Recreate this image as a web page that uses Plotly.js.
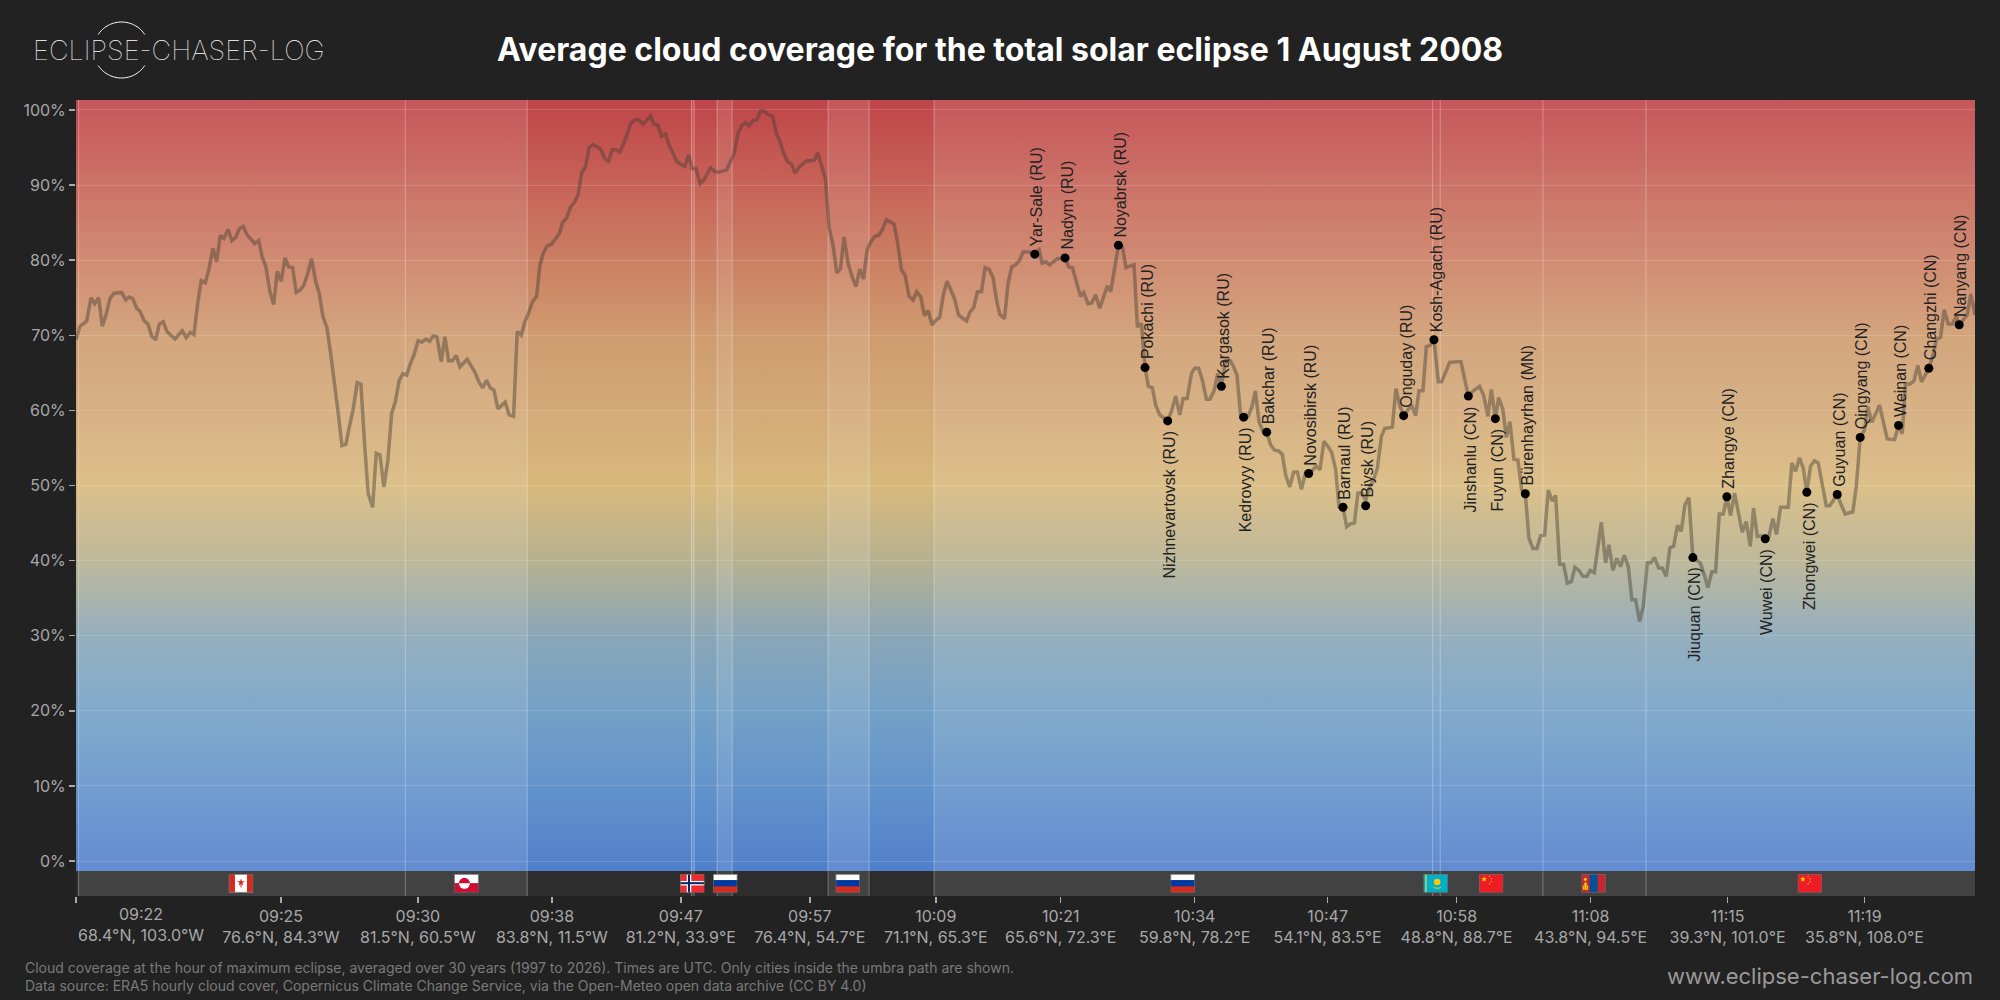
<!DOCTYPE html>
<html><head><meta charset="utf-8">
<script src="https://cdn.plot.ly/plotly-3.0.1.min.js"></script>
<style>html,body{margin:0;padding:0;background:#222}#c{width:2000px;height:1000px}</style></head>
<body><div id="c"></div>
<script>
// --- cloud series (position along the path, percent cover)
const posWest=[0,4,10.7,15,18.7,22.7,26.3,30,34,38,45.7,49.7,53,56.7,60.7,64,68.3,72,75.7,79.7,83.3,87.3,91,99,106.3,110.3,114.3,118,121.7,125.3,129.3,133,137,140.7,144.3,148,152,156,159.7,163.3,167.3,171,178.7,182.7,186.3,190,194,197.7,201.3,205.3,209,212.7,216.7,220.3,224,228,231.7,235.7,239.7,243.3,247,251,254.7,258.7,262.3,266,270,273.7,277.3,281.3,285,288.7,292.3,296.7,300.3,304,308,312,315.7,319.3,323.3,327,330.7,334.7,338.3,342.3,346,350,353.7,357.3,361,365.3,369,372.7,376.3,380.3,384,391.3,395.3,399,403,406.7,410.7,414.3,418,422,429.3,433.3,437.7,441.3,445.3,449,453,456.7,460.7,464,467.3,471.3,475.3];
const cloudWest=[69.4,71.2,71.9,75.0,74.2,75.0,71.2,72.7,74.9,75.6,75.7,74.7,75.1,74.9,73.6,73.2,71.9,71.5,69.9,69.4,71.5,71.8,70.5,69.5,70.6,69.7,70.4,70.1,74.2,77.3,77.0,78.8,81.6,79.8,83.3,82.9,84.1,82.6,83.0,84.2,84.5,83.4,82.2,82.6,80.4,79.1,75.8,74.1,78.5,77.2,80.3,79.1,79.0,75.7,76.0,76.7,78.2,80.2,77.2,75.6,72.5,71.0,67.6,63.6,59.6,55.3,55.5,58.0,60.2,63.7,63.5,55.4,48.9,47.1,54.3,54.1,49.8,53.4,59.6,61.1,64.0,64.9,64.7,66.3,67.5,69.3,69.1,69.5,69.2,69.9,69.8,66.5,69.8,66.6,66.6,67.3,65.8,66.8,65.9,65.1,63.8,63.0,64.0,63.0,62.7,60.2,61.1,59.4,59.2,70.5,70.0,71.8,73.1,74.5,75.2,79.3,80.9,81.9,82.1];
const posArctic=[483.3,486.7,490.7,494.7,498.7,502.3,505.7,509.7,513.3,517.3,524.7,528.7,532.7,536.3,540,544,548.7,555,559,563,567.3,574.7,578,582,585.7,589.7,593.3,597.3,601,609,612.7,616.3,620,624.3,628,634.7,639,642.3,646.7,650.7,658.3,662.3,665.7,669.7,673.3,677.3,681,685,689,693,696.7,700.3,704,708,711.7,715.7,719.3,723.3,730.7,734.7,738.3,742,746,749.7,753.3,757,761,764.7,768.3,772.3,776.3,780.3,784,787.7,791.3,795.3,799.3,803,807,810.7,818.3,822,825.7,829.3,833.3,837.3,841,845,848.7,852.3,856.3,860,864,867.7,871.3,875.3,879,882.7,890.7,894.3,898,901.7,905.7,909.3,913.3,917.3,921,924];
const cloudArctic=[83.5,85.0,85.6,87.1,87.7,88.8,91.6,92.5,95.0,95.4,94.8,93.6,93.2,94.7,94.7,94.4,95.8,98.2,98.7,98.7,98.1,99.2,98.1,98.0,96.5,96.8,95.3,94.2,93.1,92.5,94.0,92.2,92.2,90.2,90.7,92.3,91.8,91.7,91.9,92.0,94.2,96.9,97.9,98.3,97.9,98.6,98.7,99.9,99.8,99.3,99.2,97.0,95.9,94.2,93.1,92.8,91.6,92.4,93.2,93.2,93.3,94.3,92.4,90.8,84.3,82.2,78.3,78.9,83.1,79.6,77.8,76.5,78.8,77.5,81.4,82.5,83.2,83.3,84.2,85.4,84.8,82.2,78.7,78.0,75.2,74.7,75.8,75.1,72.6,73.3,71.4,72.0,72.4,75.5,77.2,76.0,74.8,72.7,71.9,73.1,73.7,75.8,75.8,79.0,78.8,77.7,74.5,72.8];
const posSiberia=[928.7,932.3,936,940,944,947.3,954,959,963.3,966.3,970,974,981.7,989.3,993,996.7,1000.7,1004.7,1008,1012.3,1016,1020,1024,1031.7,1035,1039,1042.7,1046.7,1050.3,1058.3,1061.7,1065.7,1069.3,1072.7,1076.7,1080,1084,1092,1096,1100,1104,1107.5,1111.5,1115.7,1119,1123,1126.7,1130.7,1134.3,1138.3,1142,1145.7,1149.7,1154,1157.3,1161.3,1165,1168.3,1172.3,1176.3,1179.7,1183.3,1187.3,1191,1195,1199,1203,1206.7,1210,1214,1218,1221.7,1225.7,1229.7,1233,1237.3,1240.7,1244.3,1248.3,1252.3,1256,1260,1263.3,1267.3,1271,1274.7,1278.7,1282.3,1286,1290,1294,1297.7,1301.7,1305.7,1309,1316.7,1320.3,1324,1328,1336,1340,1343.3,1347.3,1350.7,1354,1358.3,1362.7,1366,1374,1385.3,1389,1392.7,1396.7,1404,1408,1412.3,1415.7,1419.7,1423,1427.3,1430.7,1434.3,1438.3,1442.3,1446,1449.7];
const cloudSiberia=[72.2,76.9,79.1,79.4,80.0,81.1,81.1,80.9,81.4,79.6,79.8,79.4,80.2,80.3,79.1,79.0,77.2,75.2,75.7,74.2,74.3,75.4,73.6,76.6,75.8,78.9,82.0,81.8,79.0,79.4,71.1,71.6,65.7,63.2,63.0,60.7,59.4,58.6,60.0,61.9,59.4,61.6,61.6,64.9,65.6,65.6,64.0,61.5,61.5,62.6,64.9,63.2,66.6,66.7,66.0,64.7,59.2,59.2,59.2,60.5,62.6,58.5,57.2,57.1,55.4,54.7,54.6,54.1,51.4,49.8,51.8,51.8,49.5,51.6,51.6,52.1,52.6,52.1,55.9,55.2,54.4,52.1,47.2,47.1,44.5,44.9,45.0,49.0,49.0,48.0,49.8,50.7,52.3,56.5,57.6,57.8,62.9,60.7,59.3,60.7,59.3,62.6,62.6,68.5,68.6,69.4,63.8,63.8,66.4,66.5,64.3,61.9,62.5,63.2,62.0,59.2,62.8,58.9,61.7,60.1,56.4,58.5,53.5,53.4,49.4,48.9];
const posChina=[1453.3,1457.3,1461.3,1465,1469,1472.7,1476.7,1480,1484,1488,1491.7,1495.7,1499.3,1503.3,1507.3,1511.3,1514.7,1518.7,1525.7,1530,1533.3,1537.3,1541.3,1545,1548.7,1552.7,1556.3,1560,1564,1567.7,1571.7,1575.3,1579,1583,1586.7,1590.7,1594.3,1598,1602,1605.7,1609.3,1613.3,1617.3,1624.7,1628.7,1632.3,1636.3,1640,1643.7,1647.7,1651.3,1655,1659,1662.7,1666.7,1670.7,1674.7,1678,1681.7,1685.7,1689.7,1693.3,1697.3,1701,1705,1712.7,1716.3,1720,1724,1727.7,1731.3,1735,1739,1742.7,1746.7,1750.7,1754.3,1761.7,1765.7,1769.7,1777.3,1780.7,1784.7,1789,1792.3,1796.3,1804,1807.7,1811.7,1819,1823,1826.7,1830,1834.3,1838.3,1842.3,1846,1853.3,1857.3,1861,1865,1868.7,1872.7,1876.7,1880.7,1883.7,1891.7,1895.3,1899.5];
const cloudChina=[43.0,41.6,41.6,43.3,43.4,49.4,47.9,48.7,39.5,39.5,37.0,37.2,39.1,38.7,37.9,37.9,38.7,38.4,45.1,39.7,42.1,38.7,40.3,39.2,40.7,39.2,34.8,34.8,31.9,33.9,39.7,39.7,40.4,39.0,39.0,37.9,41.7,41.9,44.7,43.9,47.4,48.4,40.4,39.7,38.1,36.4,38.5,38.5,46.2,46.2,48.5,46.0,49.0,46.7,43.8,45.2,41.9,47.0,43.2,43.3,42.9,43.2,45.6,43.5,47.1,47.1,53.0,51.9,53.7,52.3,49.1,52.6,53.3,53.0,50.1,47.3,47.3,48.8,47.4,46.2,46.5,49.8,56.4,57.4,60.5,58.4,60.7,58.5,56.2,56.1,58.0,56.9,63.5,63.5,63.9,66.0,63.8,65.6,67.2,69.5,69.7,73.4,71.5,71.5,72.5,71.4,72.7,75.5,72.7];

// --- cities under the path
const cityNames=["Yar-Sale (RU)","Nadym (RU)","Noyabrsk (RU)","Pokachi (RU)","Nizhnevartovsk (RU)","Kargasok (RU)","Kedrovyy (RU)","Bakchar (RU)","Novosibirsk (RU)","Barnaul (RU)","Biysk (RU)","Onguday (RU)","Kosh-Agach (RU)","Jinshanlu (CN)","Fuyun (CN)","Bürenhayrhan (MN)","Jiuquan (CN)","Zhangye (CN)","Wuwei (CN)","Zhongwei (CN)","Guyuan (CN)","Qingyang (CN)","Weinan (CN)","Changzhi (CN)","Nanyang (CN)"];
const cityPos=[959,989.3,1042.7,1069.3,1092,1145.7,1168,1191,1233,1267.3,1290,1328,1358.3,1392.7,1419.7,1449.7,1617.3,1651.3,1689.7,1731.3,1761.7,1784.7,1823,1853.3,1883.7];
const cityCloud=[80.8,80.3,82.0,65.7,58.6,63.2,59.1,57.1,51.6,47.1,47.3,59.3,69.4,61.9,58.9,48.9,40.4,48.5,42.9,49.1,48.8,56.4,58.0,65.6,71.4];
const cityBelow=[0,0,0,0,1,0,1,0,0,0,0,0,0,1,1,0,1,0,1,1,0,0,0,0,0];

// --- x axis ticks
const tickPos=[0,205,342,476,605,734,860,985,1119,1252,1381,1515,1652,1789];
const tickTimes=["09:22","09:25","09:30","09:38","09:47","09:57","10:09","10:21","10:34","10:47","10:58","11:08","11:15","11:19"];
const tickCoords=["68.4°N, 103.0°W","76.6°N, 84.3°W","81.5°N, 60.5°W","83.8°N, 11.5°W","81.2°N, 33.9°E","76.4°N, 54.7°E","71.1°N, 65.3°E","65.6°N, 72.3°E","59.8°N, 78.2°E","54.1°N, 83.5°E","48.8°N, 88.7°E","43.8°N, 94.5°E","39.3°N, 101.0°E","35.8°N, 108.0°E"];
const yTicks=[0,10,20,30,40,50,60,70,80,90,100];
const yTickLabels=["0%","10%","20%","30%","40%","50%","60%","70%","80%","90%","100%"];

// --- land stretches and the country of each flag
const landStart=[2.6,329.4,615.7,641.3,752.3,858.3,1357,1364.6,1467.3,1570.4];
const landEnd=[329.4,451.3,618.3,656.3,793.3,1357,1364.6,1467.3,1570.4,1899.5];
const flagCodes=["ca","gl","no","ru","ru","ru","kz","cn","mn","cn"];
const flagPos=[165,390.5,616.4,649.4,772,1107,1360,1415.5,1518,1734.3];

// --- colour ramp of the background, from the top of the plot downward
const rampPct=[101.33,100,90,80,70,60,50,40,30,20,10,0,-1.33];
const rampColors=["#bf4549","#c0484b","#c76358","#cb7f63","#cf9b6f","#d3a978","#d8b97d","#b7b190","#8aa6b7","#74a1c7","#6393cb","#5382cb","#5180cb"];

const W=2000,H=1000,L=76,R=1975.5,T=100,B=896;
const yMin=-4.66,yMax=101.33,bandTop=-1.33,xMax=R-L;
const px=x=>(x-L)/(R-L), py=y=>(B-y)/(B-T);
const svgUri=s=>"data:image/svg+xml;charset=utf-8,"+encodeURIComponent(s);

const legs=[[posWest,cloudWest],[posArctic,cloudArctic],[posSiberia,cloudSiberia],[posChina,cloudChina]];
legs.forEach((l,i)=>{if(l[0].length!==l[1].length)throw new Error("leg "+i+": "+l[0].length+" vs "+l[1].length)});
const allPos=legs.flatMap(l=>l[0]), allCloud=legs.flatMap(l=>l[1]);

// gradient image
const gradStops=rampPct.map((p,i)=>`<stop offset="${((yMax-p)/(yMax-bandTop))}" stop-color="${rampColors[i]}"/>`).join("");
const gradSvg=`<svg xmlns="http://www.w3.org/2000/svg" width="20" height="771" viewBox="0 0 20 771" preserveAspectRatio="none"><defs><linearGradient id="g" x1="0" y1="0" x2="0" y2="1">${gradStops}</linearGradient></defs><rect width="20" height="771" fill="url(#g)"/></svg>`;

const frame=b=>`<svg xmlns="http://www.w3.org/2000/svg" width="98" height="75" viewBox="0 0 98 75">${b}<rect x="1.5" y="1.5" width="95" height="72" fill="none" stroke="#6a6a6a" stroke-width="3"/></svg>`;
const star=(x,y,r,c)=>{let p=[];for(let i=0;i<10;i++){const a=-Math.PI/2+i*Math.PI/5,q=i%2?r*.4:r;p.push((x+q*Math.cos(a)).toFixed(1)+","+(y+q*Math.sin(a)).toFixed(1))}return `<polygon points="${p.join(" ")}" fill="${c}"/>`};
const flags={
 ca:frame(`<rect width="98" height="75" fill="#fff"/><rect width="25" height="75" fill="#d52b1e"/><rect x="73" width="25" height="75" fill="#d52b1e"/>${star(49,34,16,"#d52b1e")}<rect x="47" y="40" width="4" height="14" fill="#d52b1e"/>`),
 gl:frame(`<rect width="98" height="37.5" fill="#fff"/><rect y="37.5" width="98" height="37.5" fill="#d00c33"/><path d="M19 37.5a22 22 0 0 1 44 0z" fill="#d00c33"/><path d="M19 37.5a22 22 0 0 0 44 0z" fill="#fff"/>`),
 no:frame(`<rect width="98" height="75" fill="#ef2b2d"/><rect x="27" width="18" height="75" fill="#fff"/><rect y="28" width="98" height="18" fill="#fff"/><rect x="32" width="8" height="75" fill="#002868"/><rect y="33" width="98" height="8" fill="#002868"/>`),
 ru:frame(`<rect width="98" height="25" fill="#fff"/><rect y="25" width="98" height="25" fill="#0039a6"/><rect y="50" width="98" height="25" fill="#d52b1e"/>`),
 kz:frame(`<rect width="98" height="75" fill="#00afca"/><rect x="7" width="7" height="75" fill="#9ccf6e"/><circle cx="55" cy="32" r="13" fill="#fec50c"/><path d="M38 50q17 10 34 0l-3 6q-14 6-28 0z" fill="#fec50c"/>`),
 cn:frame(`<rect width="98" height="75" fill="#ee1c25"/>${star(21,21,12,"#ffde00")}${star(42,9,4,"#ffde00")}${star(50,19,4,"#ffde00")}${star(50,31,4,"#ffde00")}${star(42,40,4,"#ffde00")}`),
 mn:frame(`<rect width="98" height="75" fill="#c4272f"/><rect x="33" width="32" height="75" fill="#015197"/><rect x="12" y="34" width="9" height="30" fill="#f9cf02"/><circle cx="16" cy="22" r="6" fill="#f9cf02"/><rect x="6" y="46" width="4" height="18" fill="#f9cf02"/><rect x="23" y="46" width="4" height="18" fill="#f9cf02"/>`)
};

const bounds=[...new Set([...landStart,...landEnd])].filter(x=>x<xMax);
const shapes=[
 {type:"rect",xref:"x",yref:"y",x0:0,x1:xMax,y0:yMin,y1:bandTop,fillcolor:"#2d2d2d",line:{width:0},layer:"below"},
 ...landStart.map((s,i)=>({type:"rect",xref:"x",yref:"y",x0:s,x1:landEnd[i],y0:yMin,y1:yMax,fillcolor:"rgba(255,255,255,0.1)",line:{width:0},layer:"below"})),
 ...bounds.map(b=>({type:"line",xref:"x",yref:"y",x0:b,x1:b,y0:yMin,y1:yMax,line:{color:"rgba(255,255,255,0.3)",width:1},layer:"below"}))
];
// logo ring: two open arcs
const arc=(a0,a1)=>{let d="";for(let i=0;i<=40;i++){const a=a0+(a1-a0)*i/40,xx=121.5+28*Math.cos(a),yy=50+28*Math.sin(a);d+=(i?"L":"M")+px(xx)+" "+py(yy)}return d};
shapes.push({type:"path",xref:"paper",yref:"paper",path:arc(-Math.PI+0.59,-0.59),line:{color:"#fff",width:1}});
shapes.push({type:"path",xref:"paper",yref:"paper",path:arc(0.59,Math.PI-0.59),line:{color:"#fff",width:1}});

const images=[
 {source:svgUri(gradSvg),xref:"paper",yref:"paper",x:0,y:1,sizex:1,sizey:(871-T)/(B-T),sizing:"stretch",xanchor:"left",yanchor:"top",layer:"below"},
 ...flagCodes.map((c,i)=>({source:svgUri(flags[c]),xref:"x",yref:"y",x:flagPos[i],y:-2.97,sizex:24.5,sizey:2.49,sizing:"stretch",xanchor:"center",yanchor:"middle",layer:"above"}))
];

const annotations=[
 ...cityNames.map((n,i)=>({xref:"x",yref:"y",x:cityPos[i],y:cityCloud[i],text:n,showarrow:false,textangle:-90,xanchor:"center",yanchor:cityBelow[i]?"top":"bottom",yshift:cityBelow[i]?-8:6,xshift:2,font:{family:"Liberation Sans",size:16,color:"#222"}})),
 {xref:"x",yref:"paper",x:0,y:py(902),xanchor:"left",yanchor:"top",align:"center",showarrow:false,text:tickTimes[0]+"<br>"+tickCoords[0],font:{family:"Inter",size:16,color:"#a8a8a8"}},
 {xref:"paper",yref:"paper",x:px(31),y:py(50),xanchor:"left",yanchor:"middle",showarrow:false,text:"ECLIPSE-CHASER-LOG",font:{family:"Inter",size:27.2,color:"#fff",weight:100}},
 {xref:"paper",yref:"paper",x:px(23),y:py(976),xanchor:"left",yanchor:"middle",align:"left",showarrow:false,text:"Cloud coverage at the hour of maximum eclipse, averaged over 30 years (1997 to 2026). Times are UTC. Only cities inside the umbra path are shown.<br>Data source: ERA5 hourly cloud cover, Copernicus Climate Change Service, via the Open-Meteo open data archive (CC BY 4.0)",font:{family:"Inter",size:14,color:"#7a7a7a"}},
 {xref:"paper",yref:"paper",x:1,y:py(976),xanchor:"right",yanchor:"middle",showarrow:false,text:"www.eclipse-chaser-log.com",font:{family:"Inter",size:22,color:"#9a9a9a"}}
];

const data=[
 {type:"scatter",mode:"lines",x:allPos,y:allCloud,line:{color:"rgba(70,62,50,0.45)",width:3.5},hoverinfo:"skip"},
 {type:"scatter",mode:"markers",x:cityPos,y:cityCloud,marker:{color:"#000",size:9},hoverinfo:"skip"}
];
const layout={
 width:W,height:H,showlegend:false,paper_bgcolor:"#222222",plot_bgcolor:"rgba(0,0,0,0)",
 margin:{l:L,r:W-R,t:T,b:H-B,pad:0},
 title:{text:"Average cloud coverage for the total solar eclipse 1 August 2008",x:0.5,xref:"container",xanchor:"center",y:0.95,yref:"container",yanchor:"middle",font:{family:"Inter",size:32,color:"#fff",weight:700}},
 xaxis:{range:[0,xMax],tickmode:"array",tickvals:tickPos,ticktext:tickPos.map((_,i)=>i?tickTimes[i]+"<br>"+tickCoords[i]:" "),ticks:"outside",ticklen:6,tickwidth:1.5,tickcolor:"#aaa",showgrid:false,zeroline:false,showline:false,tickangle:0,tickfont:{family:"Inter",size:16,color:"#a8a8a8"}},
 yaxis:{range:[yMin,yMax],tickmode:"array",tickvals:yTicks,ticktext:yTickLabels,ticks:"outside",ticklen:6,tickwidth:1.5,tickcolor:"#aaa",gridcolor:"rgba(255,255,255,0.15)",gridwidth:1,zeroline:false,showline:false,tickfont:{family:"Inter",size:16,color:"#a8a8a8"}},
 shapes,images,annotations
};
Plotly.newPlot("c",data,layout,{staticPlot:true,displayModeBar:false});
</script></body></html>
